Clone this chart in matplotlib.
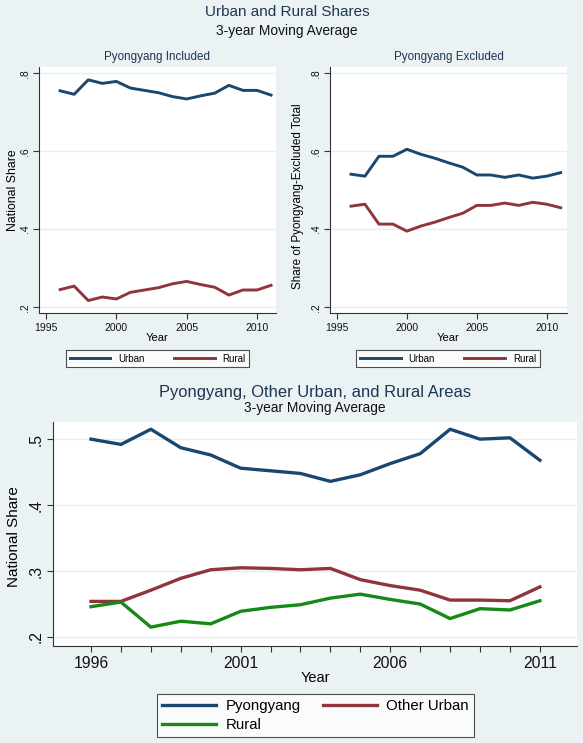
import matplotlib
matplotlib.use("Agg")
import matplotlib.pyplot as plt

plt.rcParams['font.family'] = ['Liberation Sans', 'DejaVu Sans']

years = list(range(1996, 2012))

# Top-left: Pyongyang included (national shares)
inc_urban = [0.755, 0.746, 0.783, 0.774, 0.779, 0.762, 0.756, 0.750,
             0.740, 0.734, 0.742, 0.749, 0.769, 0.756, 0.756, 0.744]
inc_rural = [0.245, 0.254, 0.217, 0.226, 0.221, 0.238, 0.244, 0.250,
             0.260, 0.266, 0.258, 0.251, 0.231, 0.244, 0.244, 0.256]

# Top-right: Pyongyang excluded
exc_urban = [0.541, 0.536, 0.587, 0.587, 0.605, 0.592, 0.582, 0.570,
             0.559, 0.539, 0.539, 0.533, 0.539, 0.531, 0.536, 0.545]
exc_rural = [0.459, 0.464, 0.413, 0.413, 0.395, 0.408, 0.418, 0.430,
             0.441, 0.461, 0.461, 0.467, 0.461, 0.469, 0.464, 0.455]

# Bottom: Pyongyang, other urban, rural
pyongyang = [0.500, 0.492, 0.515, 0.487, 0.476, 0.456, 0.452, 0.448,
             0.436, 0.446, 0.463, 0.478, 0.515, 0.500, 0.502, 0.468]
other_urban = [0.254, 0.254, 0.271, 0.289, 0.302, 0.305, 0.304, 0.302,
               0.304, 0.287, 0.278, 0.271, 0.256, 0.256, 0.255, 0.276]
rural = [0.246, 0.253, 0.215, 0.224, 0.220, 0.239, 0.245, 0.249,
         0.259, 0.265, 0.257, 0.250, 0.228, 0.243, 0.241, 0.255]

top_yticks = [0.2, 0.4, 0.6, 0.8]
top_ylabels = ['.2', '.4', '.6', '.8']
top_xticks = [1995, 2000, 2005, 2010]
bot_yticks = [0.2, 0.3, 0.4, 0.5]
bot_ylabels = ['.2', '.3', '.4', '.5']
bot_xticks = [1996, 2001, 2006, 2011]

BG = '#EAF2F3'
NAVY = '#1A476F'
MAROON = '#90353B'
GREEN = '#168A16'
TITLE_C = '#1E3552'
AXC = '#333333'

W, H = 583, 743
fig = plt.figure(figsize=(W / 100, H / 100), dpi=100, facecolor=BG)


def rect(x0, x1, ytop, ybot):
    return [x0 / W, (H - ybot) / H, (x1 - x0) / W, (ybot - ytop) / H]


def style(ax, fs_tick, ypad):
    ax.set_facecolor('white')
    for s in ['top', 'right']:
        ax.spines[s].set_visible(False)
    for s in ['left', 'bottom']:
        ax.spines[s].set_color(AXC)
        ax.spines[s].set_linewidth(0.8)
    ax.tick_params(direction='out', length=4, width=0.8, color=AXC,
                   labelsize=fs_tick, labelcolor='#111111')
    ax.tick_params(axis='y', pad=ypad)
    ax.grid(axis='y', color='#E6EEF0', linewidth=1.0)
    ax.set_axisbelow(True)
    for lab in ax.get_yticklabels():
        lab.set_rotation(90)
        lab.set_va('center')


def ylabel_at(ax, text, fs, xpx, ypx):
    ax.set_ylabel(text, fontsize=fs, va='center')
    ax.yaxis.set_label_coords(xpx / W, 1 - ypx / H, transform=fig.transFigure)


# Top-left
ax1 = fig.add_axes(rect(39, 276, 67, 313))
ax1.plot(years, inc_urban, color=NAVY, lw=2.1, label='Urban')
ax1.plot(years, inc_rural, color=MAROON, lw=2.1, label='Rural')
ax1.set_xlim(1994.5, 2011.35)
ax1.set_ylim(0.185, 0.816)
ax1.set_xticks(top_xticks)
ax1.set_yticks(top_yticks)
ax1.set_yticklabels(top_ylabels)
style(ax1, 7.5, 2.5)
ax1.set_xlabel('Year', fontsize=8, labelpad=0)
ylabel_at(ax1, 'National Share', 8.8, 13, 190)
ax1.set_title('Pyongyang Included', fontsize=8.4, color=TITLE_C, pad=5)

# Top-right
ax2 = fig.add_axes(rect(330, 567, 67, 313))
ax2.plot(years, exc_urban, color=NAVY, lw=2.1, label='Urban')
ax2.plot(years, exc_rural, color=MAROON, lw=2.1, label='Rural')
ax2.set_xlim(1994.5, 2011.45)
ax2.set_ylim(0.185, 0.816)
ax2.set_xticks(top_xticks)
ax2.set_yticks(top_yticks)
ax2.set_yticklabels(top_ylabels)
style(ax2, 7.5, 2.5)
ax2.set_xlabel('Year', fontsize=8, labelpad=0)
ylabel_at(ax2, 'Share of Pyongyang-Excluded Total', 8.4, 298, 196)
ax2.set_title('Pyongyang Excluded', fontsize=8.4, color=TITLE_C, pad=5)

# Top legends
for ax, cx in [(ax1, 157.5), (ax2, 448)]:
    leg = ax.legend(loc='center', bbox_to_anchor=(cx / W, 1 - 358.5 / H),
                    bbox_transform=fig.transFigure, ncol=2, fontsize=7,
                    frameon=True, fancybox=False, edgecolor='#222222',
                    handlelength=4.2, columnspacing=3.0, borderpad=0.4,
                    handletextpad=0.8)
    leg.get_frame().set_linewidth(0.8)

fig.text(287 / W, 1 - 12 / H, 'Urban and Rural Shares', ha='center', va='center',
         fontsize=11, color=TITLE_C)
fig.text(287 / W, 1 - 31 / H, '3-year Moving Average', ha='center', va='center',
         fontsize=9.9, color='#111111')

# Bottom
ax3 = fig.add_axes(rect(53, 577, 422, 646))
ax3.plot(years, pyongyang, color=NAVY, lw=2.4, label='Pyongyang')
ax3.plot(years, other_urban, color=MAROON, lw=2.4, label='Other Urban')
ax3.plot(years, rural, color=GREEN, lw=2.4, label='Rural')
ax3.set_xlim(1994.73, 2012.24)
ax3.set_ylim(0.1864, 0.526)
ax3.set_xticks(years)
ax3.set_xticklabels([str(y) if y in bot_xticks else '' for y in years])
ax3.set_yticks(bot_yticks)
ax3.set_yticklabels(bot_ylabels)
style(ax3, 11.3, 3)
ax3.set_xlabel('Year', fontsize=10.5, labelpad=0)
ylabel_at(ax3, 'National Share', 11, 14, 537)

fig.text(315 / W, 1 - 392 / H, 'Pyongyang, Other Urban, and Rural Areas',
         ha='center', va='center', fontsize=11.9, color=TITLE_C)
fig.text(315 / W, 1 - 408 / H, '3-year Moving Average', ha='center', va='center',
         fontsize=9.9, color='#111111')

h = {l.get_label(): l for l in ax3.get_lines()}
leg3 = ax3.legend([h['Pyongyang'], h['Rural'], h['Other Urban']],
                  ['Pyongyang', 'Rural', 'Other Urban'],
                  loc='center', bbox_to_anchor=(315.5 / W, 1 - 715.5 / H),
                  bbox_transform=fig.transFigure, ncol=2, fontsize=10.8,
                  frameon=True, fancybox=False, edgecolor='#222222',
                  handlelength=3.6, columnspacing=1.5, borderpad=0.35,
                  labelspacing=0.3, handletextpad=0.6)
leg3.get_frame().set_linewidth(0.8)

fig.savefig('out.png', dpi=100, facecolor=BG)
